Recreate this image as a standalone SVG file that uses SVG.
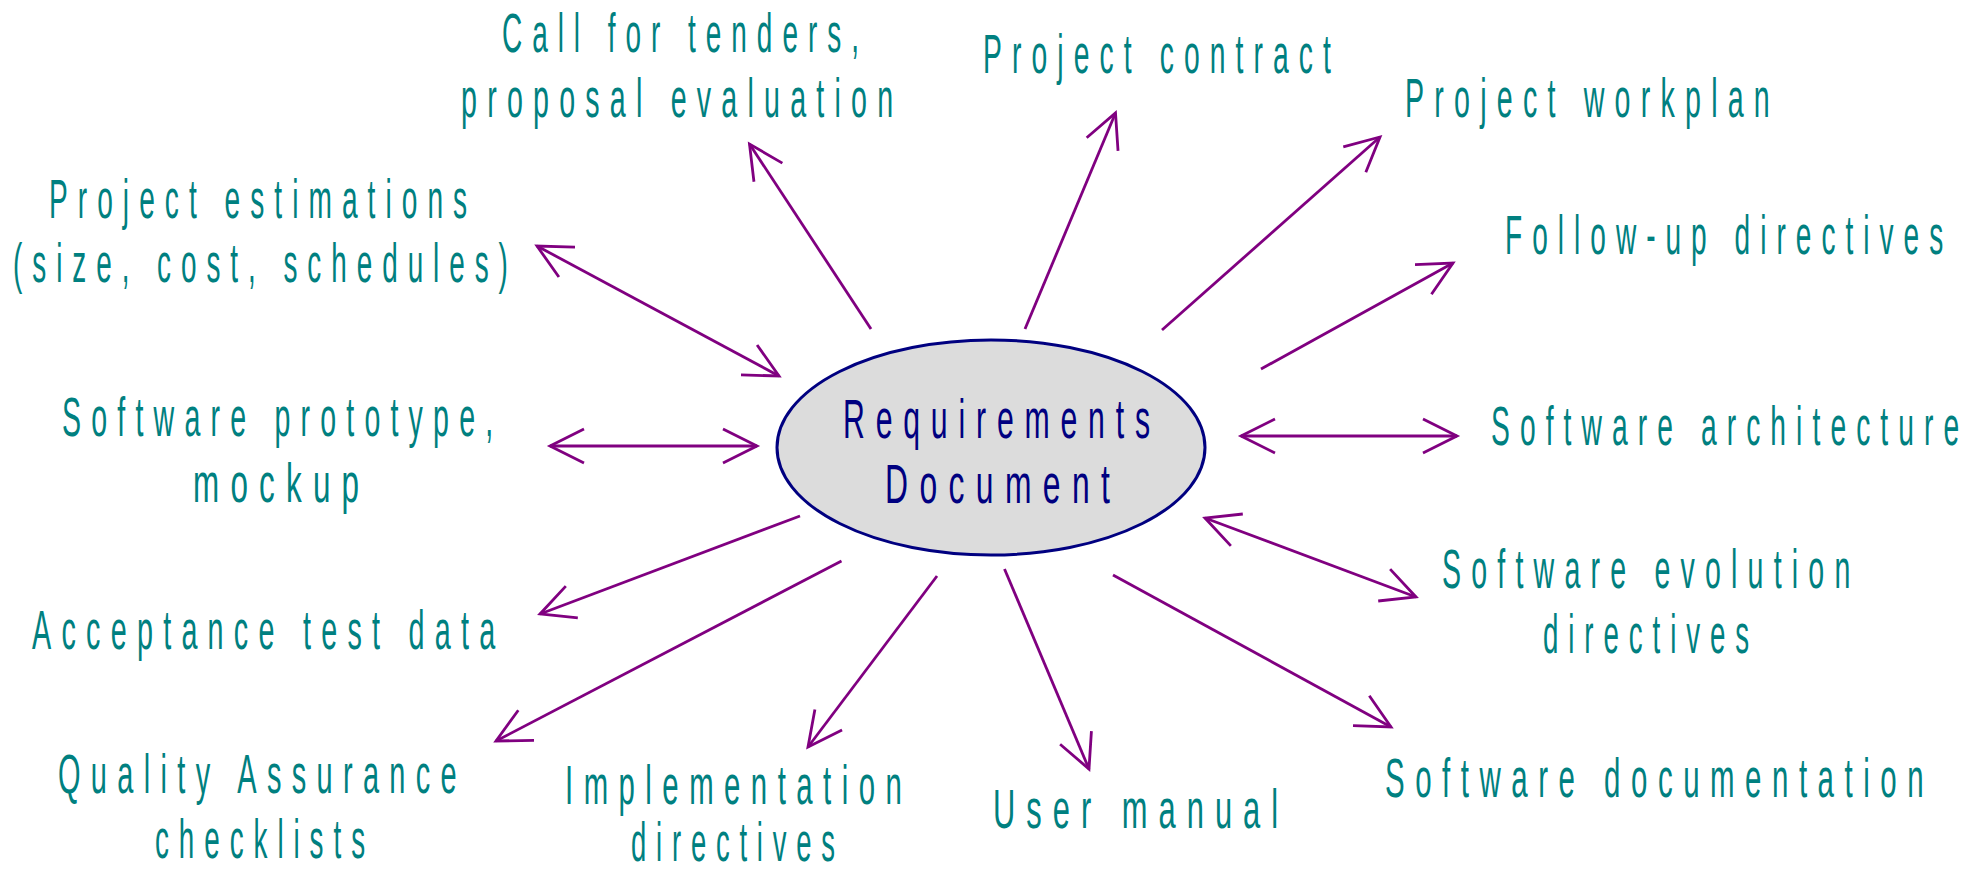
<svg xmlns="http://www.w3.org/2000/svg" width="1981" height="873" viewBox="0 0 1981 873">
<style>
.lbl{font-family:"Liberation Sans",Arial,sans-serif;font-size:56px;fill:#008080;letter-spacing:20px}
.ctr{font-family:"Liberation Sans",Arial,sans-serif;font-size:56px;fill:#000080;letter-spacing:20px}
.con{stroke:#800080;stroke-width:2.8;fill:none}
</style>
<defs>
<marker id="ah" markerUnits="userSpaceOnUse" viewBox="-40 -22 44 44" markerWidth="44" markerHeight="44" refX="0" refY="0" orient="auto-start-reverse" overflow="visible">
<path d="M-34,-17 L0,0 L-34,17" fill="none" stroke="#800080" stroke-width="2.8"/>
</marker>
</defs>
<rect width="1981" height="873" fill="#ffffff"/>
<g id="connectors">
<line class="con" x1="871" y1="329" x2="749.5" y2="144" marker-end="url(#ah)"/>
<line class="con" x1="537" y1="246" x2="779" y2="376" marker-start="url(#ah)" marker-end="url(#ah)"/>
<line class="con" x1="1025" y1="329" x2="1115.5" y2="113" marker-end="url(#ah)"/>
<line class="con" x1="1162" y1="330" x2="1380" y2="137" marker-end="url(#ah)"/>
<line class="con" x1="1261" y1="369" x2="1453" y2="263" marker-end="url(#ah)"/>
<line class="con" x1="550" y1="446" x2="757" y2="446" marker-start="url(#ah)" marker-end="url(#ah)"/>
<line class="con" x1="1241" y1="436" x2="1457" y2="436" marker-start="url(#ah)" marker-end="url(#ah)"/>
<line class="con" x1="1205" y1="518" x2="1416" y2="597" marker-start="url(#ah)" marker-end="url(#ah)"/>
<line class="con" x1="800" y1="516" x2="540" y2="614" marker-end="url(#ah)"/>
<line class="con" x1="841.5" y1="561" x2="496" y2="741" marker-end="url(#ah)"/>
<line class="con" x1="937" y1="576" x2="808" y2="747" marker-end="url(#ah)"/>
<line class="con" x1="1004.5" y1="569" x2="1089" y2="769" marker-end="url(#ah)"/>
<line class="con" x1="1113" y1="575" x2="1391" y2="727" marker-end="url(#ah)"/>
</g>
<g id="requirements-document">
<ellipse cx="991" cy="447.5" rx="214" ry="107.5" fill="#dcdcdc" stroke="#000080" stroke-width="3"/>
<text class="ctr" transform="translate(843,438) scale(0.540,1)">Requirements</text>
<text class="ctr" transform="translate(885,503) scale(0.569,1)">Document</text>
</g>
<g id="call-for-tenders">
<text class="lbl" transform="translate(502,52) scale(0.499,1)">Call for tenders,</text>
<text class="lbl" transform="translate(461,117) scale(0.511,1)">proposal evaluation</text>
</g>
<g id="project-contract">
<text class="lbl" transform="translate(983,73) scale(0.505,1)">Project contract</text>
</g>
<g id="project-workplan">
<text class="lbl" transform="translate(1405,117) scale(0.511,1)">Project workplan</text>
</g>
<g id="project-estimations">
<text class="lbl" transform="translate(49,218) scale(0.502,1)">Project estimations</text>
<text class="lbl" transform="translate(13,282) scale(0.498,1)">(size, cost, schedules)</text>
</g>
<g id="follow-up-directives">
<text class="lbl" transform="translate(1505,254) scale(0.501,1)">Follow-up directives</text>
</g>
<g id="software-prototype">
<text class="lbl" transform="translate(62,436) scale(0.510,1)">Software prototype,</text>
<text class="lbl" transform="translate(193,502) scale(0.561,1)">mockup</text>
</g>
<g id="software-architecture">
<text class="lbl" transform="translate(1491,445) scale(0.504,1)">Software architecture</text>
</g>
<g id="acceptance-test-data">
<text class="lbl" transform="translate(32,649) scale(0.513,1)">Acceptance test data</text>
</g>
<g id="software-evolution">
<text class="lbl" transform="translate(1442,588) scale(0.510,1)">Software evolution</text>
<text class="lbl" transform="translate(1543,653) scale(0.495,1)">directives</text>
</g>
<g id="quality-assurance">
<text class="lbl" transform="translate(58,793) scale(0.517,1)">Quality Assurance</text>
<text class="lbl" transform="translate(155,858) scale(0.497,1)">checklists</text>
</g>
<g id="implementation-directives">
<text class="lbl" transform="translate(565,804) scale(0.524,1)">Implementation</text>
<text class="lbl" transform="translate(631,861) scale(0.490,1)">directives</text>
</g>
<g id="user-manual">
<text class="lbl" transform="translate(993,828) scale(0.551,1)">User manual</text>
</g>
<g id="software-documentation">
<text class="lbl" transform="translate(1385,797) scale(0.526,1)">Software documentation</text>
</g>
</svg>
